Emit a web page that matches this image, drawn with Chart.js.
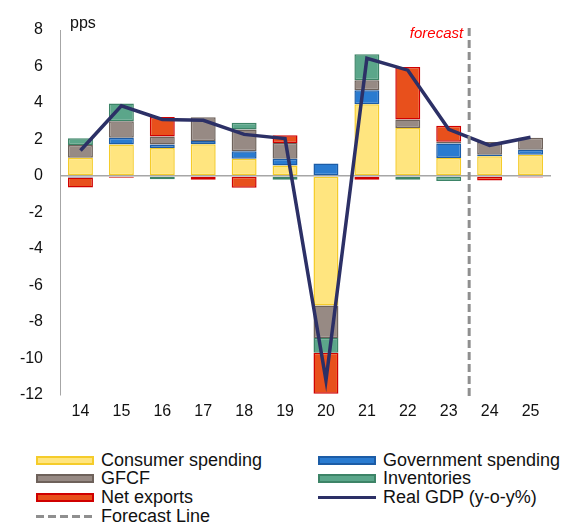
<!DOCTYPE html>
<html>
<head>
<meta charset="utf-8">
<script src="https://cdn.jsdelivr.net/npm/chart.js@4/dist/chart.umd.min.js"></script>
<style>
    body { margin: 0; background: #fff; font-family: "Liberation Sans", Arial, sans-serif; }
    #wrap { position: relative; width: 566px; height: 524px; }
    #legend {
        position: absolute; left: 36px; top: 451px;
        display: grid; grid-template-columns: 282px 250px;
        font-size: 18px; color: #111;
    }
    .item { display: flex; align-items: center; height: 18.6px; white-space: nowrap; }
    .swatch { width: 58px; height: 9px; box-sizing: border-box; margin-right: 7px; flex: none; }
</style>
</head>
<body>
<div id="wrap">
    <canvas id="gdpChart" width="566" height="440"></canvas>
    <div id="legend"></div>
</div>
<script>
// Contributions to real GDP growth, pps
const years = ['14', '15', '16', '17', '18', '19', '20', '21', '22', '23', '24', '25'];
const consumerSpending = [1.0, 1.72, 1.53, 1.74, 0.95, 0.58, -7.09, 3.93, 2.63, 0.99, 1.08, 1.17];
const governmentSpending = [-0.08, 0.38, 0.2, 0.18, 0.4, 0.37, 0.68, 0.77, 0.0, 0.79, 0.09, 0.27];
const gfcf = [0.7, 0.9, 0.44, 1.3, 1.2, 0.86, -1.79, 0.55, 0.47, 0.09, 0.69, 0.66];
const inventories = [0.37, 0.97, -0.18, 0.0, 0.37, -0.2, -0.8, 1.42, -0.2, -0.28, 0.0, 0.0];
const netExports = [-0.55, -0.1, 1.06, -0.2, -0.64, 0.42, -2.25, -0.2, 2.87, 0.88, -0.24, -0.08];
const realGdp = [1.4, 3.85, 3.1, 3.05, 2.28, 2.05, -11.2, 6.45, 5.8, 2.56, 1.68, 2.12];
const yTicks = [-12, -10, -8, -6, -4, -2, 0, 2, 4, 6, 8];
const forecastAfter = '23';

const barStyle = (fill, edge) => ({
    type: 'bar', backgroundColor: fill, borderColor: edge, borderWidth: 1.5,
    borderSkipped: false, order: 1
});

// dashed forecast marker + annotations
const forecastPlugin = {
    id: 'forecastPlugin',
    afterDatasetsDraw(chart) {
        const { ctx, chartArea, scales } = chart;
        const i = years.indexOf(forecastAfter);
        const x = (scales.x.getPixelForValue(i) + scales.x.getPixelForValue(i + 1)) / 2;
        ctx.save();
        ctx.strokeStyle = '#8f8f8f';
        ctx.lineWidth = 3;
        ctx.setLineDash([8, 4]);
        ctx.beginPath();
        ctx.moveTo(x, chartArea.top - 2);
        ctx.lineTo(x, chartArea.bottom + 5);
        ctx.stroke();
        ctx.setLineDash([]);
        ctx.fillStyle = '#ff0000';
        ctx.font = 'italic 15px "Liberation Sans", Arial, sans-serif';
        ctx.textAlign = 'right';
        ctx.textBaseline = 'alphabetic';
        ctx.fillText('forecast', x - 6, 38);
        ctx.fillStyle = '#111';
        ctx.font = '16px "Liberation Sans", Arial, sans-serif';
        ctx.textAlign = 'left';
        ctx.fillText('pps', chartArea.left + 10, 28);
        ctx.restore();
    }
};

const ctx = document.getElementById('gdpChart').getContext('2d');
const chart = new Chart(ctx, {
    data: {
        labels: years,
        datasets: [
            { label: 'Consumer spending', data: consumerSpending, ...barStyle('#ffe57f', '#f5cc2a') },
            { label: 'Government spending', data: governmentSpending, ...barStyle('#2a7bd0', '#1c5ca6') },
            { label: 'GFCF', data: gfcf, ...barStyle('#978a84', '#6e625b') },
            { label: 'Inventories', data: inventories, ...barStyle('#5ba68a', '#3d8467') },
            { label: 'Net exports', data: netExports, ...barStyle('#e8501c', '#d00000') },
            {
                type: 'line', label: 'Real GDP (y-o-y%)', data: realGdp, stack: 'gdp',
                borderColor: '#2c3066', backgroundColor: '#2c3066', borderWidth: 3.5,
                pointRadius: 0, tension: 0, order: 0
            }
        ]
    },
    options: {
        responsive: false,
        animation: false,
        layout: { padding: { top: 30, right: 15, left: 0, bottom: 0 } },
        datasets: { bar: { categoryPercentage: 1, barPercentage: 0.61 } },
        scales: {
            x: {
                stacked: true,
                grid: { display: false, drawTicks: false },
                border: { display: false },
                ticks: { padding: 7, color: '#111', font: { size: 16, family: '"Liberation Sans", Arial' } },
                afterFit: s => { s.height = 45; }
            },
            y: {
                stacked: true,
                min: yTicks[0], max: yTicks[yTicks.length - 1],
                afterBuildTicks: s => { s.ticks = yTicks.map(v => ({ value: v })); },
                grid: {
                    drawTicks: false,
                    lineWidth: 1.5,
                    color: c => (c.tick && c.tick.value === 0) ? '#a6a6a6' : 'rgba(0,0,0,0)'
                },
                border: { display: true, color: '#a6a6a6', width: 1 },
                ticks: { padding: 17, color: '#111', font: { size: 16, family: '"Liberation Sans", Arial' } },
                afterFit: s => { s.width = 60; }
            }
        },
        plugins: { legend: { display: false }, tooltip: { enabled: false } }
    },
    plugins: [forecastPlugin]
});

// legend built from the datasets, two columns like the original
const legendEl = document.getElementById('legend');
const entries = chart.data.datasets.map(ds => {
    if (ds.type === 'line') {
        return `<div class="item"><span class="swatch" style="height:3.5px;background:${ds.borderColor}"></span>${ds.label}</div>`;
    }
    return `<div class="item"><span class="swatch" style="background:${ds.backgroundColor};border:2px solid ${ds.borderColor}"></span>${ds.label}</div>`;
});
entries.push('<div class="item"><span class="swatch" style="height:3px;background:repeating-linear-gradient(to right,#8f8f8f 0 8px,transparent 8px 12px)"></span>Forecast Line</div>');
legendEl.innerHTML = entries.join('');
</script>
</body>
</html>
